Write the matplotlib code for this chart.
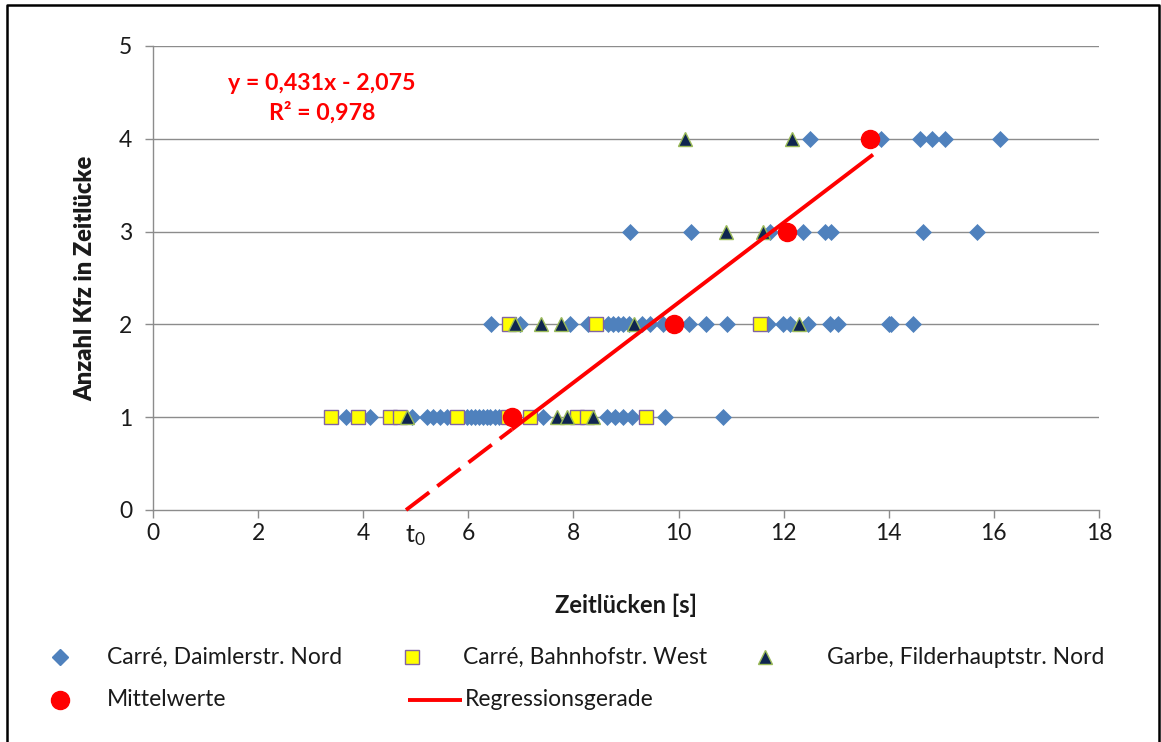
import matplotlib
matplotlib.use("Agg")
import matplotlib.pyplot as plt
import numpy as np

plt.rcParams['font.family'] = ['Lato', 'DejaVu Sans']
plt.rcParams['mathtext.fontset'] = 'custom'
plt.rcParams['mathtext.rm'] = 'Lato'
plt.rcParams['mathtext.it'] = 'Lato'

# ---- data ----
daimler_x = [3.68, 4.13, 4.92, 5.21, 5.33, 5.46, 5.59, 5.97, 6.05, 6.12, 6.2, 6.28, 6.35, 6.42, 6.5, 6.58,
             7.43, 8.63, 8.79, 8.95, 9.11, 9.74, 10.85,
             6.44, 6.98, 7.93, 8.28, 8.65, 8.75, 8.85, 8.95, 9.05, 9.3, 9.45, 9.71, 10.19, 10.53, 10.92,
             11.70, 11.99, 12.12, 12.47, 12.88, 13.04, 14.0, 14.05, 14.47,
             9.08, 10.23, 11.74, 12.37, 12.79, 12.91, 14.66, 15.67,
             12.51, 13.86, 14.59, 14.83, 15.07, 16.12]
daimler_y = [1] * 23 + [2] * 24 + [3] * 8 + [4] * 6

bahnhof_x = [3.38, 3.91, 4.50, 4.70, 5.78, 6.76, 7.17, 8.06, 8.25, 9.39,
             6.78, 8.43, 11.55]
bahnhof_y = [1] * 10 + [2] * 3

garbe_x = [4.84, 7.68, 7.87, 8.37,
           6.89, 7.39, 7.76, 9.15, 12.29,
           10.90, 11.61,
           10.12, 12.15]
garbe_y = [1] * 4 + [2] * 5 + [3] * 2 + [4] * 2

mean_x = [6.83, 9.91, 12.06, 13.65]
mean_y = [1, 2, 3, 4]

reg_slope = 0.431
reg_intercept = -2.075
reg_x_solid = [6.83, 13.70]

eq_text = "y = 0,431x - 2,075"
r2_text = "R² = 0,978"

x_ticks = [0, 2, 4, 6, 8, 10, 12, 14, 16, 18]
y_ticks = [0, 1, 2, 3, 4, 5]

legend_labels = ["Carré, Daimlerstr. Nord", "Carré, Bahnhofstr. West",
                 "Garbe, Filderhauptstr. Nord", "Mittelwerte", "Regressionsgerade"]

# ---- figure ----
W, H = 1161, 742
fig = plt.figure(figsize=(W / 100, H / 100), dpi=100)
ax = fig.add_axes([153 / W, 1 - 510 / H, (1099 - 153) / W, (510 - 46) / H])

grid_c = '#8c8c8c'
txt_c = '#1a1a1a'
ax.set_xlim(0, 18)
ax.set_ylim(0, 5)
for yv in y_ticks[1:]:
    ax.axhline(yv, color=grid_c, lw=1.0, zorder=1)
for s in ['top', 'right']:
    ax.spines[s].set_visible(False)
for s in ['left', 'bottom']:
    ax.spines[s].set_color(grid_c)
    ax.spines[s].set_linewidth(1.0)
ax.set_xticks(x_ticks)
ax.set_yticks(y_ticks)
ax.tick_params(axis='both', direction='out', length=6, width=1.0, color=grid_c,
               labelsize=16.5, labelcolor=txt_c)
ax.tick_params(axis='x', pad=3)
ax.tick_params(axis='y', pad=9)

blue = '#4F81BD'
ax.plot(daimler_x, daimler_y, ls='none', marker='D', ms=8.5, mfc=blue, mec=blue, mew=0.5, zorder=3)
ax.plot(bahnhof_x, bahnhof_y, ls='none', marker='s', ms=9.5, mfc='#FFFF00', mec='#8064A2', mew=1.0, zorder=4)
ax.plot(garbe_x, garbe_y, ls='none', marker='^', ms=9.5, mfc='#0F2550', mec='#9BBB59', mew=1.0, zorder=5)

x0 = -reg_intercept / reg_slope
xd = np.array([x0, reg_x_solid[0]])
ax.plot(xd, reg_slope * xd + reg_intercept, color='#FF0000', lw=2.8,
        ls=(0, (7.5, 2.6)), solid_capstyle='butt', dash_capstyle='butt', zorder=6, clip_on=False)
xs = np.array(reg_x_solid)
ax.plot(xs, reg_slope * xs + reg_intercept, color='#FF0000', lw=2.8, solid_capstyle='butt', zorder=6)

ax.plot(mean_x, mean_y, ls='none', marker='o', ms=13, mfc='#FF0000', mec='#FF0000', zorder=7)

ax.set_xlabel("Zeitlücken [s]", fontsize=17, fontweight='bold', labelpad=36, color=txt_c)
ax.set_ylabel("Anzahl Kfz in Zeitlücke", fontsize=17, fontweight='heavy', labelpad=16, color=txt_c)

fig.text(322 / W, 1 - 83 / H, eq_text, color='#FF0000', fontsize=16.7, fontweight='bold',
         ha='center', va='center')
fig.text(322 / W, 1 - 113 / H, r2_text, color='#FF0000', fontsize=16.7, fontweight='bold',
         ha='center', va='center')
fig.text(415 / W, 1 - 536 / H, r"$\mathrm{t_0}$", fontsize=18, ha='center', va='center', color=txt_c)

# ---- legend (manual, figure pixel coords) ----
lg = fig.add_axes([0, 0, 1, 1], facecolor='none')
lg.set_xlim(0, W)
lg.set_ylim(H, 0)
lg.axis('off')
r1, r2 = 657, 700
lg.plot([60], [r1], ls='none', marker='D', ms=8.5, mfc=blue, mec=blue)
lg.plot([412], [r1], ls='none', marker='s', ms=9.5, mfc='#FFFF00', mec='#8064A2', mew=1.0)
lg.plot([765], [r1], ls='none', marker='^', ms=9.5, mfc='#0F2550', mec='#9BBB59', mew=1.0)
lg.plot([60], [r2], ls='none', marker='o', ms=13, mfc='#FF0000', mec='#FF0000')
lg.plot([408, 462], [r2, r2], color='#FF0000', lw=2.8, solid_capstyle='butt')
ltx = [(107, r1), (463, r1), (827, r1), (107, r2), (465, r2)]
for (tx, ty), lab in zip(ltx, legend_labels):
    lg.text(tx, ty, lab, fontsize=16.5, ha='left', va='center', color=txt_c)

# outer frame
lg.plot([7, 7, 1159, 1159], [745, 5, 5, 745], color='black', lw=1.8, clip_on=False)

fig.savefig("out.png", dpi=100)
